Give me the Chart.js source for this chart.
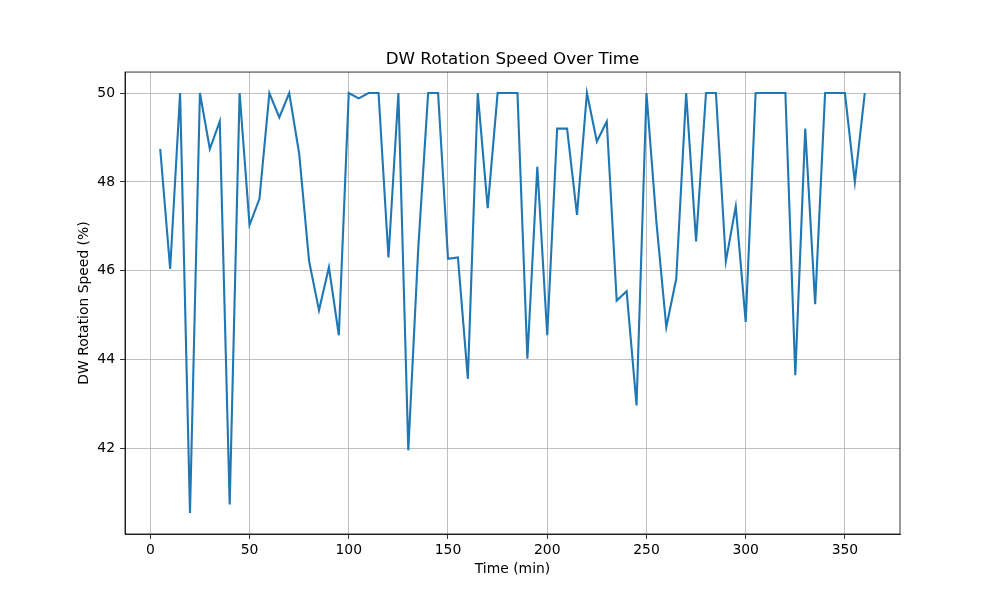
<!DOCTYPE html>
<html>
<head>
<meta charset="utf-8">
<script src="https://cdn.jsdelivr.net/npm/chart.js@4"></script>
<style>
  html, body { margin: 0; padding: 0; background: #ffffff; }
  #wrap { width: 1000px; height: 600px; }
</style>
</head>
<body>
<div id="wrap"><canvas id="c" width="1000" height="600"></canvas></div>
<script>
// ---- Data ----
const timeMin = [5,10,15,20,25,30,35,40,45,50,55,60,65,70,75,80,85,90,95,100,
  105,110,115,120,125,130,135,140,145,150,155,160,165,170,175,180,185,190,195,200,
  205,210,215,220,225,230,235,240,245,250,255,260,265,270,275,280,285,290,295,300,
  305,310,315,320,325,330,335,340,345,350,355,360];
const dwSpeed = [48.74,46.04,50.0,40.55,50.0,48.74,49.36,40.74,50.0,47.03,47.62,50.0,49.45,50.0,48.64,46.22,45.11,46.08,44.55,50.0,
  49.88,50.0,50.0,46.30,50.0,41.96,46.5,50.0,50.0,46.27,46.30,43.57,50.0,47.41,50.0,50.0,50.0,44.02,48.34,44.55,
  49.20,49.20,47.26,50.0,48.91,49.36,45.33,45.54,42.97,50.0,47.1,44.73,45.82,50.0,46.66,50.0,50.0,46.21,47.45,44.85,
  50.0,50.0,50.0,50.0,43.65,49.20,45.25,50.0,50.0,50.0,48.0,50.0];
const xTicks = [0,50,100,150,200,250,300,350];
const yTicks = [42,44,46,48,50];
const chartTitle = 'DW Rotation Speed Over Time';
const xTitle = 'Time (min)';
const yTitle = 'DW Rotation Speed (%)';

// ---- Chart ----
const FONT = "'DejaVu Sans', sans-serif";
const points = timeMin.map((t, i) => ({ x: t, y: dwSpeed[i] }));

const frame = {
  id: 'frame',
  afterDatasetsDraw(chart) {
    const a = chart.chartArea, ctx = chart.ctx;
    ctx.save();
    ctx.strokeStyle = '#000';
    ctx.lineWidth = 0.8;
    ctx.strokeRect(a.left, a.top, a.right - a.left, a.bottom - a.top);
    ctx.restore();
  }
};

new Chart(document.getElementById('c'), {
  type: 'line',
  data: {
    datasets: [{
      data: points,
      borderColor: '#1f77b4',
      borderWidth: 2.1,
      pointRadius: 0,
      tension: 0,
      fill: false
    }]
  },
  options: {
    responsive: false,
    animation: false,
    devicePixelRatio: 1,
    layout: { padding: { left: 0, right: 100, top: 0, bottom: 0 } },
    plugins: {
      legend: { display: false },
      tooltip: { enabled: false },
      title: {
        display: true,
        text: chartTitle,
        fullSize: false,
        color: '#000',
        font: { family: FONT, size: 16.7, weight: 'normal', lineHeight: 1.2 },
        padding: { top: 50, bottom: 2 }
      }
    },
    scales: {
      x: {
        type: 'linear',
        min: -12.75,
        max: 377.75,
        afterBuildTicks: s => { s.ticks = xTicks.map(v => ({ value: v })); },
        afterFit: s => { s.height = 66; },
        grid: { color: '#b0b0b0', lineWidth: 0.8, tickLength: 5, tickColor: '#000', tickWidth: 0.8 },
        border: { display: true, color: '#000', width: 0.8 },
        ticks: { color: '#000', font: { family: FONT, size: 13.9 }, padding: 3, maxRotation: 0 },
        title: {
          display: true, text: xTitle, color: '#000',
          font: { family: FONT, size: 13.9, lineHeight: 1.2 },
          padding: { top: 0, bottom: 22 }
        }
      },
      y: {
        type: 'linear',
        min: 40.0775,
        max: 50.4725,
        afterBuildTicks: s => { s.ticks = yTicks.map(v => ({ value: v })); },
        afterFit: s => { s.width = 125; },
        grid: { color: '#b0b0b0', lineWidth: 0.8, tickLength: 5, tickColor: '#000', tickWidth: 0.8 },
        border: { display: true, color: '#000', width: 0.8 },
        ticks: { color: '#000', font: { family: FONT, size: 13.9 }, padding: 5 },
        title: {
          display: true, text: yTitle, color: '#000',
          font: { family: FONT, size: 13.9, lineHeight: 1.2 },
          padding: { top: 76, bottom: 0 }
        }
      }
    }
  },
  plugins: [frame]
});
</script>
</body>
</html>
